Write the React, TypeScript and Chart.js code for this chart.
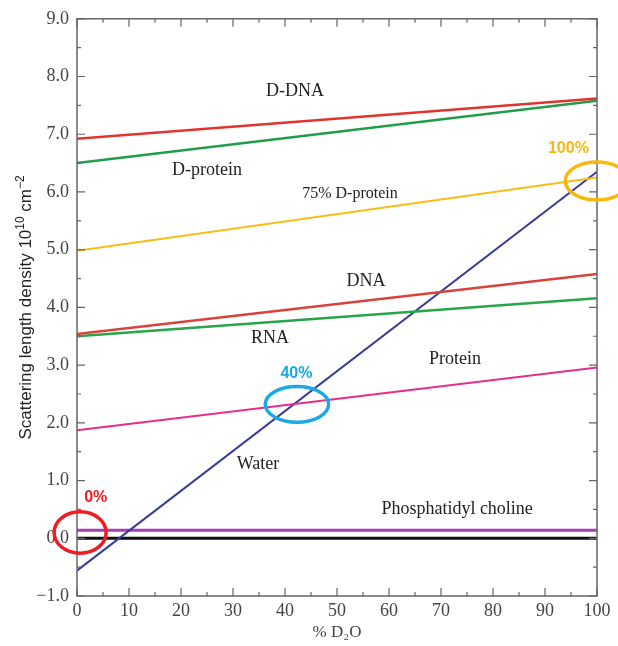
import React, { useEffect, useRef } from "react";
import { Chart, registerables } from "chart.js";

Chart.register(...registerables);

// % D2O at the two ends of every line
const d2o = [0, 100];

// Scattering length density (10^10 cm^-2) at 0% and 100% D2O
const dDNA = [6.92, 7.62];
const dProtein = [6.5, 7.58];
const d75Protein = [4.98, 6.25];
const dna = [3.54, 4.58];
const rna = [3.5, 4.16];
const protein = [1.87, 2.96];
const water = [-0.56, 6.35];
const phosphatidylCholine = [0.14, 0.14];
const zeroLine = [0, 0];

const seriesNames = ["D-DNA", "D-protein", "75% D-protein", "DNA", "RNA", "Protein", "Water", "Phosphatidyl choline", "zero"];
const seriesValues = [dDNA, dProtein, d75Protein, dna, rna, protein, water, phosphatidylCholine, zeroLine];
const seriesColors = ["#E2332E", "#1F9D4A", "#F8BD14", "#D9423A", "#27A548", "#E82C8C", "#3B3C98", "#A43FB4", "#111111"];
const seriesWidths = [2.5, 2.5, 2, 2.5, 2.5, 2, 2, 3, 3];

// Text labels placed in data coordinates
const labelTexts = ["D-DNA", "D-protein", "75% D-protein", "DNA", "RNA", "Protein", "Water", "Phosphatidyl choline"];
const labelX = [41.9, 25, 52.5, 55.6, 37.1, 72.7, 34.8, 73.1];
const labelY = [7.75, 6.37, 5.96, 4.46, 3.46, 3.1, 1.29, 0.5];
const labelSizes = [18, 18, 16, 18, 18, 18, 18, 18];

// Highlight ellipses (centre in data coords, radii in data units)
const markTexts = ["0%", "40%", "100%"];
const markColors = ["#EE1C25", "#1BA9E1", "#F6B90E"];
const markCx = [0.6, 42.3, 100];
const markCy = [0.1, 2.32, 6.19];
const markRx = [5.0, 6.1, 6.1];
const markRy = [0.36, 0.31, 0.33];
const markTextX = [3.6, 42.2, 94.5];
const markTextY = [0.7, 2.85, 6.75];

const xTicks = [0, 10, 20, 30, 40, 50, 60, 70, 80, 90, 100];
const yTicks = [-1, 0, 1, 2, 3, 4, 5, 6, 7, 8, 9];

const serif = "'Liberation Serif', 'Times New Roman', serif";
const sans = "'Liberation Sans', Arial, sans-serif";

const decorPlugin = {
  id: "decor",
  afterDatasetsDraw(chart: any) {
    const { ctx, chartArea, scales } = chart;
    const xs = scales.x;
    const ys = scales.y;
    const { left, right, top, bottom } = chartArea;
    ctx.save();
    // frame
    ctx.strokeStyle = "#666";
    ctx.lineWidth = 1.5;
    ctx.strokeRect(left, top, right - left, bottom - top);
    // inward ticks
    ctx.lineWidth = 1.2;
    for (let v = 0; v <= 100; v += 5) {
      const px = xs.getPixelForValue(v);
      const len = v % 10 === 0 ? 8 : 4;
      ctx.beginPath();
      ctx.moveTo(px, bottom);
      ctx.lineTo(px, bottom - len);
      ctx.moveTo(px, top);
      ctx.lineTo(px, top + len);
      ctx.stroke();
    }
    for (let i = -2; i <= 18; i++) {
      const v = i / 2;
      const py = ys.getPixelForValue(v);
      const len = i % 2 === 0 ? 8 : 4;
      ctx.beginPath();
      ctx.moveTo(left, py);
      ctx.lineTo(left + len, py);
      ctx.moveTo(right, py);
      ctx.lineTo(right - len, py);
      ctx.stroke();
    }
    // labels
    ctx.fillStyle = "#222";
    ctx.textAlign = "center";
    ctx.textBaseline = "middle";
    labelTexts.forEach((t, i) => {
      ctx.font = `${labelSizes[i]}px ${serif}`;
      ctx.fillText(t, xs.getPixelForValue(labelX[i]), ys.getPixelForValue(labelY[i]));
    });
    // ellipses
    markTexts.forEach((t, i) => {
      const cx = xs.getPixelForValue(markCx[i]);
      const cy = ys.getPixelForValue(markCy[i]);
      const rx = Math.abs(xs.getPixelForValue(markCx[i] + markRx[i]) - cx);
      const ry = Math.abs(ys.getPixelForValue(markCy[i] + markRy[i]) - cy);
      ctx.strokeStyle = markColors[i];
      ctx.lineWidth = 3.5;
      ctx.beginPath();
      ctx.ellipse(cx, cy, rx, ry, 0, 0, Math.PI * 2);
      ctx.stroke();
      ctx.fillStyle = markColors[i];
      ctx.font = `bold 16px ${sans}`;
      ctx.fillText(t, xs.getPixelForValue(markTextX[i]), ys.getPixelForValue(markTextY[i]));
    });
    // y-axis title with real superscripts
    const parts: [string, number, number][] = [
      ["Scattering length density 10", 17, 0],
      ["10", 12, -7],
      [" cm", 17, 0],
      ["−2", 12, -7],
    ];
    let total = 0;
    parts.forEach(([t, s]) => {
      ctx.font = `${s}px ${sans}`;
      total += ctx.measureText(t).width;
    });
    ctx.translate(25, (top + bottom) / 2);
    ctx.rotate(-Math.PI / 2);
    ctx.fillStyle = "#222";
    ctx.textAlign = "left";
    ctx.textBaseline = "alphabetic";
    let xPos = -total / 2;
    parts.forEach(([t, s, dy]) => {
      ctx.font = `${s}px ${sans}`;
      ctx.fillText(t, xPos, 6 + dy);
      xPos += ctx.measureText(t).width;
    });
    ctx.restore();
  },
};

export default function App() {
  const ref = useRef<HTMLCanvasElement | null>(null);
  useEffect(() => {
    if (!ref.current) return;
    const chart = new Chart(ref.current, {
      type: "line",
      data: {
        datasets: seriesNames.map((name, i) => ({
          label: name,
          data: d2o.map((x, j) => ({ x, y: seriesValues[i][j] })),
          borderColor: seriesColors[i],
          borderWidth: seriesWidths[i],
          pointRadius: 0,
          fill: false,
          tension: 0,
        })),
      },
      options: {
        animation: false,
        responsive: true,
        maintainAspectRatio: false,
        layout: { padding: { left: 0, top: 15, right: 21, bottom: 0 } },
        plugins: { legend: { display: false }, tooltip: { enabled: false } },
        scales: {
          x: {
            type: "linear",
            min: 0,
            max: 100,
            afterFit: (s: any) => { s.height = 50; },
            afterBuildTicks: (s: any) => { s.ticks = xTicks.map((v) => ({ value: v })); },
            grid: { display: false, drawTicks: false },
            border: { display: false },
            ticks: {
              padding: 4,
              color: "#444",
              font: { family: serif, size: 18 },
              callback: (v: any) => String(v),
            },
            title: {
              display: true,
              text: "% D₂O",
              color: "#444",
              font: { family: serif, size: 17 },
              padding: { top: 0, bottom: 3 },
            },
          },
          y: {
            type: "linear",
            min: -1,
            max: 9,
            afterFit: (s: any) => { s.width = 77; },
            afterBuildTicks: (s: any) => { s.ticks = yTicks.map((v) => ({ value: v })); },
            grid: { display: false, drawTicks: false },
            border: { display: false },
            ticks: {
              padding: 8,
              color: "#444",
              font: { family: serif, size: 18 },
              callback: (v: any) => Number(v).toFixed(1).replace("-", "−"),
            },
            title: { display: false },
          },
        },
      },
      plugins: [decorPlugin],
    } as any);
    return () => chart.destroy();
  }, []);
  return (
    <div style={{ position: "fixed", left: 0, top: 0, width: 618, height: 646, background: "#fff" }}>
      <canvas ref={ref} />
    </div>
  );
}
